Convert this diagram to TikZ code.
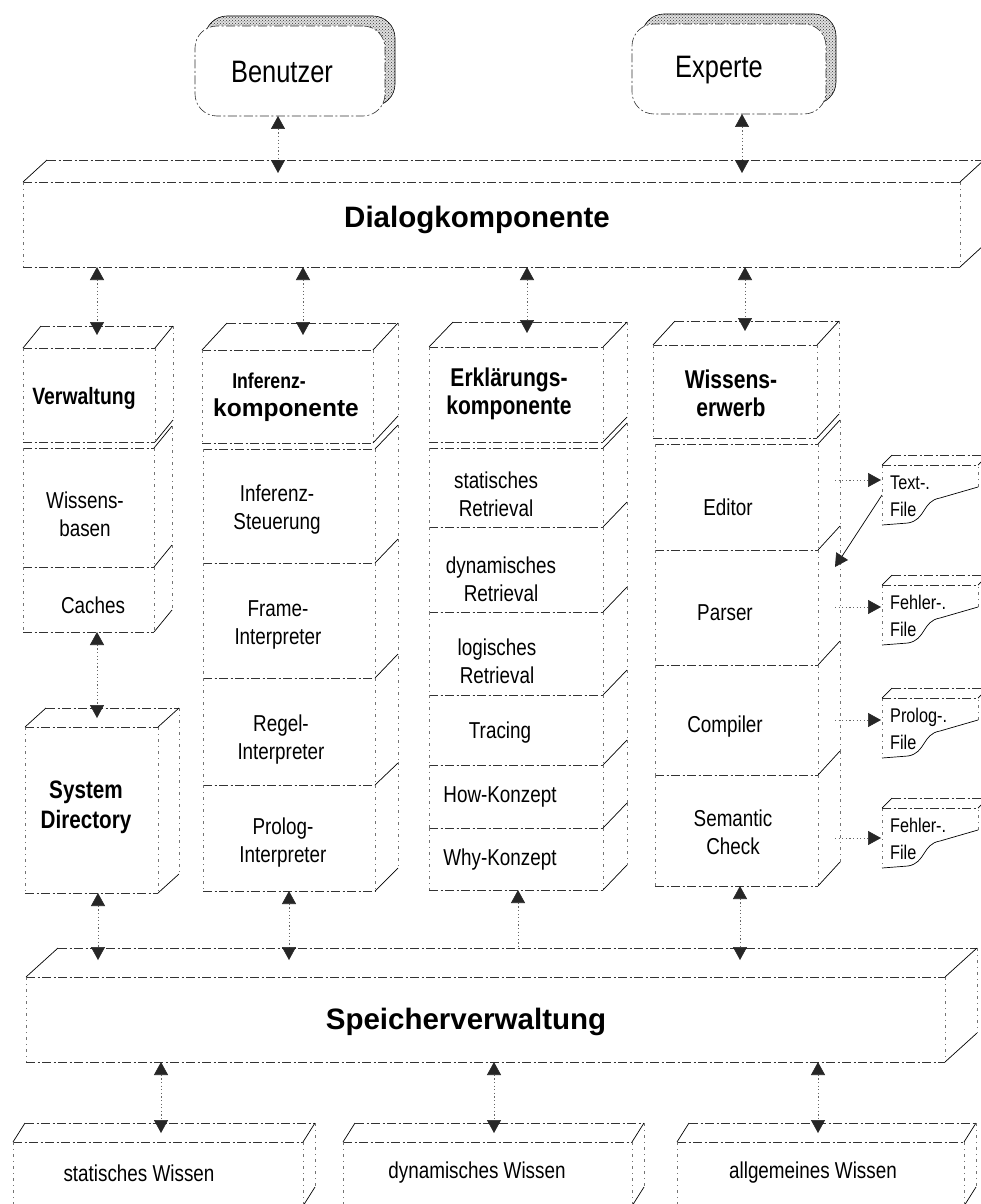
\documentclass[tikz,border=0pt]{standalone}
\usepackage{fontspec}
\setmainfont{Liberation Sans}
\newfontfamily\narrowsans{Liberation Sans}[FakeStretch=0.82]
\usetikzlibrary{arrows.meta,calc,patterns,backgrounds}

\tikzset{
  edge/.style={draw=black!80, line width=0.6pt, dash pattern=on 9pt off 2.5pt on 2pt off 2.5pt},
  vedge/.style={draw=black!55, line width=0.5pt, dash pattern=on 3pt off 4pt on 1pt off 4pt},
  diag/.style={draw=black, line width=0.7pt},
  rbox/.style={edge, fill=white, rounded corners=22pt, inner sep=0pt, outer sep=0pt,
               minimum width=190pt, minimum height=90pt},
  rshade/.style={draw=black, line width=0.6pt, fill=black!12,
                 postaction={pattern=crosshatch dots, pattern color=black!80}, rounded corners=22pt},
  tri/.tip={Triangle[width=14pt,length=13pt,color=black!85]},
  link/.style={draw=black!60, line width=0.6pt, dash pattern=on 1.2pt off 2.4pt},
  both/.style={link, tri-tri},
  toone/.style={link, -tri},
  fromone/.style={link, tri-},
  lbl/.style={font=\narrowsans\fontsize{23}{28}\selectfont, align=center, inner sep=0pt},
  hdr/.style={font=\narrowsans\bfseries\fontsize{25.7}{28}\selectfont, align=center, inner sep=0pt},
  ttl/.style={font=\bfseries\fontsize{29.5}{34}\selectfont, inner sep=0pt},
  usr/.style={font=\narrowsans\fontsize{31}{34}\selectfont, inner sep=0pt},
  ftxt/.style={font=\narrowsans\fontsize{19.8}{27}\selectfont, align=left, inner sep=0pt, anchor=west},
}

% front face of a block: name, x1, y1, x2, y2 (y grows downwards)
\newcommand\face[5]{%
  \node[inner sep=0pt, outer sep=0pt, minimum width={(#4-#2)*1pt}, minimum height={(#5-#3)*1pt}]
    (#1) at ({(#2+#4)/2},{(#3+#5)/2}) {};
  \draw[edge] (#1.north west) -- (#1.north east);
  \draw[edge] (#1.south west) -- (#1.south east);
  \draw[vedge] (#1.north west) -- (#1.south west);
  \draw[vedge] (#1.north east) -- (#1.south east);}
% top face of a block: name, depth dx, depth dy
\newcommand\topface[3]{%
  \draw[diag] (#1.north west) -- ++(#2,-#3);
  \draw[edge] ($(#1.north west)+(#2,-#3)$) -- ($(#1.north east)+(#2,-#3)$);
  \draw[diag] (#1.north east) -- ++(#2,-#3);}
% right face of a block: name, depth dx, depth dy
\newcommand\sideface[3]{%
  \draw[vedge] ($(#1.north east)+(#2,-#3)$) -- ($(#1.south east)+(#2,-#3)$);
  \draw[diag] (#1.south east) -- ++(#2,-#3);}
% top edge of the first block under a header
\newcommand\firstdiag[3]{\draw[diag] (#1.north east) -- ++(#2,-#3);}
% file document with wavy lower edge: name, left x, top y, text
\newcommand\filedoc[4]{%
  \node[inner sep=0pt, outer sep=0pt, minimum width=96pt, minimum height=60pt] (#1) at (#2+48,#3+30) {};
  \draw[vedge] (#1.north west) -- (#1.south west);
  \draw[edge] (#1.north west) -- (#1.north east);
  \draw[diag] (#1.south west) -- ($(#1.south west)+(26,-2)$)
     .. controls ($(#1.south west)+(44,-5)$) and ($(#1.south west)+(40,-24)$) ..
     ($(#1.south west)+(58,-27)$) -- ($(#1.south east)+(0,-38)$);
  \draw[vedge] ($(#1.south east)+(0,-38)$) -- (#1.north east);
  \draw[diag] (#1.north west) -- ++(10,-10);
  \draw[edge] ($(#1.north west)+(10,-10)$) -- ($(#1.north east)+(10,-10)$);
  \draw[diag] (#1.north east) -- ++(10,-10);
  \node[ftxt] (#1-t) at ($(#1.west)+(8,1)$) {#4};}

\begin{document}
\begin{tikzpicture}[x=1pt,y=-1pt]
\useasboundingbox (0,0) rectangle (981,1204);
\begin{scope}[on background layer]
  \fill[white] (0,0) rectangle (981,1204);
\end{scope}
\clip (0,0) rectangle (981,1204);

% users
\node[rbox] (ben) at (290,71) {};
\node[usr] (ben-t) at (282,72) {Benutzer};
\node[rbox, minimum width=194pt] (exp) at (729,69) {};
\node[usr] (exp-t) at (719,70) {Experte};
\begin{scope}[on background layer]
  \draw[rshade] ($(ben.south west)+(10,-10)$) rectangle ($(ben.north east)+(10,-10)$);
  \draw[rshade] ($(exp.south west)+(10,-10)$) rectangle ($(exp.north east)+(10,-10)$);
\end{scope}

% dialog layer
\face{dlg}{23}{182}{960}{267}
\topface{dlg}{24}{22}\sideface{dlg}{24}{22}
\node[ttl] (dlg-t) at (477,220) {Dialogkomponente};

% column: Verwaltung
\face{verw}{23}{348}{155}{442}
\topface{verw}{18}{22}\sideface{verw}{18}{22}
\node[hdr, font=\narrowsans\bfseries\fontsize{23.6}{26}\selectfont] (verw-t) at (84,398) {Verwaltung};
\face{wbas}{23}{448}{154}{567}
\firstdiag{wbas}{18}{22}\sideface{wbas}{18}{22}
\node[lbl] (wbas-t) at (85,514) {Wissens-\\basen};
\face{cach}{23}{567}{154}{632}
\sideface{cach}{18}{22}
\node[lbl] (cach-t) at (93,605) {Caches};
\face{sys}{25}{727}{158}{893}
\topface{sys}{21}{19}\sideface{sys}{21}{19}
\node[hdr, font=\narrowsans\bfseries\fontsize{25.2}{30}\selectfont] (sys-t) at (86,807) {System\\Directory};

% column: Inferenzkomponente
\face{inf}{202}{350}{373}{443}
\topface{inf}{25}{27}\sideface{inf}{25}{27}
\node[font=\narrowsans\bfseries\fontsize{21.5}{24}\selectfont, inner sep=0pt] (inf-t1) at (269,381) {Inferenz-};
\node[font=\bfseries\fontsize{24.5}{28}\selectfont, inner sep=0pt] (inf-t2) at (286,410) {komponente};
\face{isteu}{203}{449}{375}{563}
\firstdiag{isteu}{23}{24}\sideface{isteu}{23}{24}
\node[lbl] (isteu-t) at (277,510) {Inferenz-\\Steuerung};
\face{frame}{203}{563}{375}{678}
\sideface{frame}{23}{24}
\node[lbl] (frame-t) at (278,625) {Frame-\\Interpreter};
\face{regel}{203}{678}{375}{785}
\sideface{regel}{23}{22}
\node[lbl] (regel-t) at (281,740) {Regel-\\Interpreter};
\face{prol}{203}{785}{375}{891}
\sideface{prol}{23}{23}
\node[lbl] (prol-t) at (283,843) {Prolog-\\Interpreter};

% column: Erklaerungskomponente
\face{erk}{429}{347}{603}{442}
\topface{erk}{24}{25}\sideface{erk}{24}{25}
\node[hdr] (erk-t) at (509,394) {Erklärungs-\\komponente};
\face{sret}{429}{448}{603}{527}
\firstdiag{sret}{24}{25}\sideface{sret}{24}{25}
\node[lbl] (sret-t) at (496,494) {statisches\\Retrieval};
\face{dret}{429}{527}{603}{612}
\sideface{dret}{24}{25}
\node[lbl] (dret-t) at (501,579) {dynamisches\\Retrieval};
\face{lret}{429}{612}{603}{695}
\sideface{lret}{24}{25}
\node[lbl] (lret-t) at (497,661) {logisches\\Retrieval};
\face{trac}{429}{695}{603}{765}
\sideface{trac}{24}{25}
\node[lbl] (trac-t) at (500,733) {Tracing};
\face{how}{429}{765}{603}{828}
\sideface{how}{24}{25}
\node[lbl] (how-t) at (500,797) {How-Konzept};
\face{why}{429}{828}{603}{890}
\sideface{why}{24}{25}
\node[lbl] (why-t) at (500,860) {Why-Konzept};

% column: Wissenserwerb
\face{wis}{653}{345}{817}{438}
\topface{wis}{22}{24}\sideface{wis}{22}{24}
\node[hdr] (wis-t) at (731,393) {Wissens-\\erwerb};
\face{edit}{655}{444}{818}{550}
\firstdiag{edit}{22}{24}\sideface{edit}{22}{24}
\node[lbl] (edit-t) at (728,507) {Editor};
\face{pars}{655}{550}{818}{665}
\sideface{pars}{22}{24}
\node[lbl] (pars-t) at (725,613) {Parser};
\face{comp}{655}{665}{818}{775}
\sideface{comp}{22}{24}
\node[lbl] (comp-t) at (725,727) {Compiler};
\face{sem}{655}{775}{818}{886}
\sideface{sem}{22}{24}
\node[lbl] (sem-t) at (733,832) {Semantic\\Check};

% files
\filedoc{tf}{882}{465}{Text-.\\File}
\filedoc{fe1}{882}{585}{Fehler-.\\File}
\filedoc{pf}{882}{698}{Prolog-.\\File}
\filedoc{fe2}{882}{808}{Fehler-.\\File}

% storage layer
\face{spv}{26}{977}{945}{1062}
\topface{spv}{32}{29}\sideface{spv}{32}{29}
\node[ttl] (spv-t) at (466,1022) {Speicherverwaltung};

% knowledge stores
\face{stat}{13}{1142}{303}{1206}
\topface{stat}{12}{19}\sideface{stat}{12}{19}
\node[lbl] (stat-t) at (139,1173) {statisches Wissen};
\face{dyn}{343}{1142}{632}{1206}
\topface{dyn}{12}{19}\sideface{dyn}{12}{19}
\node[lbl] (dyn-t) at (477,1173) {dynamisches Wissen};
\face{allg}{677}{1142}{964}{1206}
\topface{allg}{12}{19}\sideface{allg}{12}{19}
\node[lbl] (allg-t) at (813,1173) {allgemeines Wissen};

% connectors: users <-> dialog
\coordinate (ben-o) at ($(ben.south)+(-12,0)$);
\coordinate (exp-o) at ($(exp.south)+(13,0)$);
\coordinate (dlg-i) at ($(dlg.north)+(0,-9)$);
\draw[both] (ben-o) -- (ben-o |- dlg-i);
\draw[both] (exp-o) -- (exp-o |- dlg-i);

% dialog <-> columns
\coordinate (verw-i) at ($(verw.north)+(8,-13)$);
\coordinate (inf-i) at ($(inf.north)+(15.5,-15)$);
\coordinate (erk-i) at ($(erk.north)+(11,-14)$);
\coordinate (wis-i) at ($(wis.north)+(10,-14)$);
\draw[both] (verw-i |- dlg.south) -- (verw-i);
\draw[both] (inf-i |- dlg.south) -- (inf-i);
\draw[both] (erk-i |- dlg.south) -- (erk-i);
\draw[both] (wis-i |- dlg.south) -- (wis-i);

% caches <-> system directory
\coordinate (cach-o) at ($(cach.south)+(8.5,0)$);
\coordinate (sys-i) at ($(sys.north)+(0,-9)$);
\draw[both] (cach-o) -- (cach-o |- sys-i);

% columns <-> storage layer
\coordinate (spv-i) at ($(spv.north)+(0,-17)$);
\coordinate (spv-b) at ($(spv.north)+(0,-29)$);
\coordinate (sys-o) at ($(sys.south)+(6.5,0)$);
\coordinate (why-o) at ($(why.south)+(2,0)$);
\coordinate (sem-o) at ($(sem.south)+(3.5,0)$);
\draw[both] (sys-o) -- (sys-o |- spv-i);
\draw[both] (prol.south) -- (prol.south |- spv-i);
\draw[fromone] (why-o) -- (why-o |- spv-b);
\draw[both] (sem-o) -- (sem-o |- spv-i);

% storage layer <-> knowledge stores
\coordinate (stat-i) at ($(stat.north)+(3,-9)$);
\coordinate (dyn-i) at ($(dyn.north)+(6.5,-9)$);
\coordinate (allg-i) at ($(allg.north)+(-2.5,-9)$);
\draw[both] (stat-i |- spv.south) -- (stat-i);
\draw[both] (dyn-i |- spv.south) -- (dyn-i);
\draw[both] (allg-i |- spv.south) -- (allg-i);

% knowledge acquisition <-> files
\coordinate (c4-x) at ($(edit.east)+(17,0)$);
\coordinate (tf-i) at ($(tf.west)+(-1,-15)$);
\coordinate (fe1-i) at ($(fe1.west)+(-1,-8)$);
\coordinate (pf-i) at ($(pf.west)+(-1,-8)$);
\coordinate (fe2-i) at ($(fe2.west)+(-1,0)$);
\draw[toone] (c4-x |- tf-i) -- (tf-i);
\draw[diag, -tri] (tf.west) -- ($(pars.north east)+(17,17)$);
\draw[toone] (c4-x |- fe1-i) -- (fe1-i);
\draw[toone] (c4-x |- pf-i) -- (pf-i);
\draw[toone] (c4-x |- fe2-i) -- (fe2-i);
\end{tikzpicture}
\end{document}
